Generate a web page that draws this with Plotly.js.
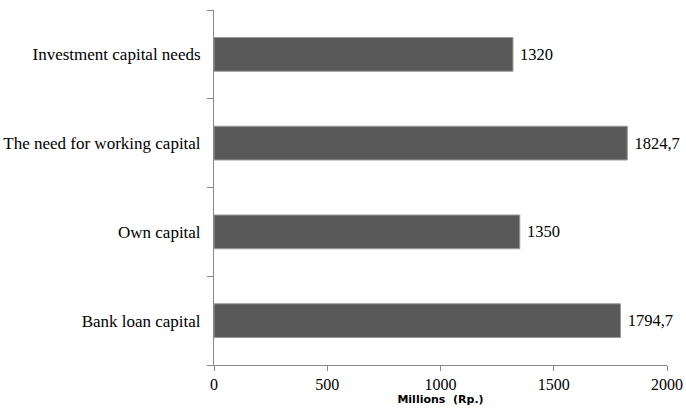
<!DOCTYPE html>
<html>
<head>
<meta charset="utf-8">
<script src="https://cdn.plot.ly/plotly-3.0.1.min.js"></script>
<style>html,body{margin:0;padding:0;background:#fff;}#chart{width:686px;height:408px;}</style>
</head>
<body>
<div id="chart"></div>
<script>
const categories = ["Bank loan capital", "Own capital", "The need for working capital", "Investment capital needs"];
const values = [1794.7, 1350, 1824.7, 1320];
const valueLabels = ["1794,7", "1350", "1824,7", "1320"];
const xTickValues = [0, 500, 1000, 1500, 2000];

const serif = "'Liberation Serif', 'Times New Roman', serif";

Plotly.newPlot("chart", [{
  type: "bar",
  orientation: "h",
  y: categories,
  x: values,
  text: valueLabels.map(s => "\u00a0" + s),
  textposition: "outside",
  cliponaxis: false,
  textfont: {family: serif, size: 16.5, color: "#000"},
  marker: {color: "#595959", line: {color: "#9a9a9a", width: 1}},
  hoverinfo: "none"
}], {
  width: 686, height: 408,
  margin: {l: 214, r: 19, t: 10, b: 43},
  paper_bgcolor: "#fff", plot_bgcolor: "#fff",
  bargap: 0.62,
  showlegend: false,
  xaxis: {
    range: [0, 2000],
    tickvals: xTickValues,
    ticktext: xTickValues.map(String),
    ticks: "outside", ticklen: 5, tickcolor: "#888",
    showgrid: false, zeroline: false,
    showline: true, linecolor: "#888", linewidth: 1,
    tickfont: {family: serif, size: 16, color: "#000"},
    title: {text: "<b>Millions  (Rp.)</b>", font: {family: "'DejaVu Sans', sans-serif", size: 11, color: "#000"}, standoff: 0}
  },
  yaxis: {
    type: "category",
    tickson: "boundaries",
    ticks: "outside", ticklen: 6, tickcolor: "#888",
    ticklabelstandoff: 9,
    showgrid: false, zeroline: false,
    showline: true, linecolor: "#888", linewidth: 1,
    tickfont: {family: serif, size: 17, color: "#000"}
  }
}, {displayModeBar: false, staticPlot: true});
</script>
</body>
</html>
